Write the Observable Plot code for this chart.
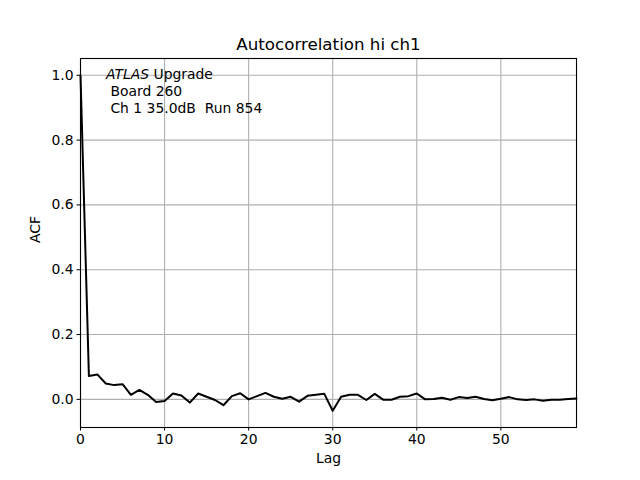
<!DOCTYPE html>
<html><head><meta charset="utf-8">
<script src="https://cdn.jsdelivr.net/npm/d3@7"></script>
<script src="https://cdn.jsdelivr.net/npm/@observablehq/plot@0.6"></script>
<style>
body{margin:0;background:#fff;}
svg{font-family:"DejaVu Sans",sans-serif;}
</style></head><body>
<div id="chart"></div>
<script>
const lags = d3.range(0, 60);
const acf = [1.0, 0.072, 0.077, 0.049, 0.044, 0.047, 0.014, 0.029, 0.014, -0.008,
  -0.005, 0.018, 0.012, -0.010, 0.018, 0.008, -0.002, -0.018, 0.010, 0.019,
  0.000, 0.010, 0.020, 0.008, 0.002, 0.008, -0.007, 0.011, 0.014, 0.017,
  -0.035, 0.008, 0.014, 0.014, -0.002, 0.017, -0.001, -0.001, 0.008, 0.010,
  0.018, 0.000, 0.001, 0.005, -0.001, 0.007, 0.004, 0.008, 0.001, -0.003,
  0.002, 0.007, 0.000, -0.002, 0.000, -0.004, -0.001, -0.001, 0.001, 0.003];
const xTicks = [0, 10, 20, 30, 40, 50];
const yTicks = [0.0, 0.2, 0.4, 0.6, 0.8, 1.0];
const title = "Autocorrelation hi ch1";
const xLabel = "Lag";
const yLabel = "ACF";
const noteLines = [" Board 260", " Ch 1 35.0dB  Run 854"];

const data = lags.map((l, i) => ({lag: l, acf: acf[i]}));

const plot = Plot.plot({
  width: 640, height: 480,
  marginLeft: 80, marginRight: 64, marginTop: 58, marginBottom: 53,
  style: {fontFamily: "DejaVu Sans, sans-serif", fontSize: "13.9px", color: "#000", background: "#fff"},
  x: {domain: [0, 59], ticks: xTicks, tickFormat: d => String(d), label: null, tickSize: 3.5},
  y: {domain: [-0.0868, 1.0518], ticks: yTicks, tickFormat: d => d.toFixed(1), label: null, tickSize: 3.5},
  marks: [
    Plot.gridX(xTicks, {stroke: "#b0b0b0", strokeOpacity: 1, strokeWidth: 1.1}),
    Plot.gridY(yTicks, {stroke: "#b0b0b0", strokeOpacity: 1, strokeWidth: 1.1}),
    Plot.line(data, {x: "lag", y: "acf", stroke: "#000", strokeWidth: 2}),
    Plot.axisX(xTicks, {tickSize: 3.5, tickPadding: 3.5, tickFormat: d => String(d), label: null, fontSize: 13.9}),
    Plot.axisY(yTicks, {tickSize: 3.5, tickPadding: 3.5, tickFormat: d => d.toFixed(1), label: null, fontSize: 13.9}),
    Plot.frame({stroke: "#000", strokeWidth: 1.1}),
    Plot.text([title], {frameAnchor: "top", dy: -20, fontSize: 16.7, text: d => d, fill: "#000"}),
    Plot.text([xLabel], {frameAnchor: "bottom", dy: 35, fontSize: 13.9, text: d => d, fill: "#000"}),
    Plot.text([yLabel], {frameAnchor: "left", dx: -45, rotate: -90, fontSize: 13.9, text: d => d, fill: "#000"})
  ]
});
document.getElementById("chart").appendChild(plot);

// annotation text in axes-relative position
const svg = d3.select(plot);
const t1 = svg.append("text").attr("x", 106).attr("y", 79).attr("font-size", 13.9).attr("fill", "#000")
  .attr("text-anchor", "start").attr("font-family", "DejaVu Sans, sans-serif");
t1.append("tspan").attr("font-style", "italic").text("ATLAS");
t1.append("tspan").text(" Upgrade");
noteLines.forEach((s, i) => {
  svg.append("text").attr("x", 106).attr("y", 96 + i * 16.5).attr("font-size", 13.9)
    .attr("fill", "#000").attr("text-anchor", "start").attr("font-family", "DejaVu Sans, sans-serif")
    .attr("xml:space", "preserve").style("white-space", "pre").text(s);
});
</script></body></html>
